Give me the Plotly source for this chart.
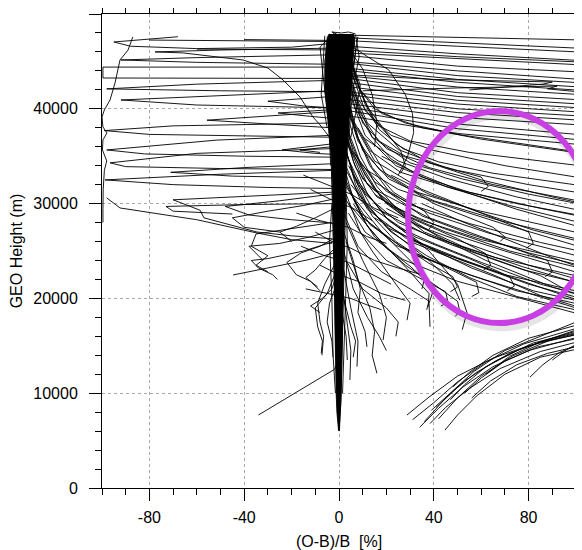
import plotly.graph_objects as go

# ---------------- data (x = (O-B)/B [%], y = GEO height [m]) ----------------
# dense central bundle envelope
core_y = [47900, 47500, 46000, 44000, 42000, 40000, 37000, 35000, 32000, 30000,
          27000, 25000, 22000, 20000, 17000, 15000, 12000, 10000, 8000, 7000, 6100]
core_left = [-4.2, -5.0, -5.6, -6.0, -6.0, -5.2, -4.0, -3.2, -2.8, -2.6,
             -2.3, -2.1, -1.9, -1.8, -1.7, -1.6, -1.4, -1.2, -0.9, -0.6, -0.2]
core_right = [6.0, 6.6, 6.0, 5.4, 5.0, 4.5, 3.7, 3.2, 2.8, 2.6,
              2.2, 1.9, 1.7, 1.6, 1.4, 1.3, 1.1, 0.9, 0.6, 0.4, 0.2]

# stringy profiles at the edges of the bundle
edge_profiles = [
    [(-4, 47900), (-6, 45000), (-5, 41000), (-3.5, 36000), (-2.8, 30000), (-2, 22000), (-1.5, 15000), (-0.8, 9000), (0, 6000)],
    [(6, 47900), (7, 46000), (5, 42000), (3.5, 36000), (2.8, 30000), (2, 22000), (1.5, 15000), (0.8, 9000), (0, 6000)],
    [(-2, 48000), (-8, 46500), (-6.5, 43000), (-4.5, 39000), (-3.5, 34000)],
    [(7, 47800), (8.5, 45500), (6.5, 43000), (5, 40000), (4, 36000)],
    [(-6, 47700), (-7, 44000), (-7.5, 41500), (-5, 38000)],
    [(8, 47600), (6, 44500), (9, 42500), (7, 39500), (5, 37000)],
    [(-3, 30000), (-4, 26000), (-3, 20000), (-2.5, 14000), (-1.5, 10000)],
    [(3, 31000), (3.5, 26000), (2.8, 20000), (2, 14000), (1.5, 10000)],
    [(-1, 47900), (-3, 48100), (1, 48000), (4, 48100), (7, 47900)],
]

# near-horizontal profiles running off the right edge in the upper part
right_top = [
    [(-2, 47800), (50, 47550), (105, 47250)],
    [(3, 47500), (50, 47000), (105, 46350)],
    [(-40, 47300), (3, 47200), (50, 46600), (105, 45950)],
    [(4, 46600), (50, 45800), (105, 45050)],
    [(-60, 46300), (3, 46200), (50, 45500), (105, 44900)],
    [(3, 45900), (50, 45300), (105, 44600)],
    [(5, 45600), (50, 44500), (105, 43850)],
    [(3, 45000), (50, 44000), (105, 43050)],
    [(4, 44800), (50, 43500), (105, 42700)],
    [(3, 44300), (50, 43100), (105, 42250)],
    [(5, 44000), (50, 42800), (105, 41900)],
    [(3, 43500), (50, 42300), (105, 41450)],
    [(4, 43200), (50, 41700), (105, 40900)],
    [(3, 42800), (50, 41300), (105, 40450)],
    [(5, 42300), (50, 40900), (105, 40050)],
    [(3, 41800), (50, 40500), (105, 39600)],
    [(4, 41500), (50, 40000), (105, 39200)],
    [(3, 41000), (50, 39600), (105, 38750)],
    [(5, 40500), (50, 39100), (105, 38250)],
    [(3, 40200), (50, 38400), (105, 37200)],
    [(4, 39800), (50, 37900), (105, 36650)],
    [(3, 39300), (50, 37400), (105, 36150)],
    [(3, 43600), (40, 43100), (90, 42830), (86, 42600), (55, 41990)],
    [(10, 41900), (50, 42200), (92, 42400), (88, 42100), (105, 41700)],
    [(3, 47000), (12, 45500), (21, 44100), (28, 41500), (31, 39500), (31.5, 37500), (29, 35000), (25, 33000)],
    [(5, 46000), (10, 44200), (14, 41500), (16, 38500), (15, 36000)],
]

# profiles bending away to the right through the mid levels
right_fan = [
    [(4, 45500), (9, 42000), (18, 39500), (35, 38000), (60, 36800), (105, 35200)],
    [(3, 44800), (8, 41000), (16, 38300), (30, 36600), (55, 35400), (105, 33900)],
    [(5, 44000), (11, 39800), (22, 37200), (40, 35600), (70, 34000), (105, 32600)],
    [(3, 43500), (7, 40000), (14, 37000), (28, 35000), (50, 33500), (80, 32000), (105, 31000)],
    [(4, 42800), (10, 38500), (20, 35800), (38, 33800), (65, 32000), (105, 30100)],
    [(3, 42000), (6, 38800), (13, 35600), (26, 33300), (48, 31600), (75, 30000), (105, 28600)],
    [(5, 41200), (11, 37200), (24, 34000), (45, 31800), (72, 29800), (105, 27800)],
    [(3, 40500), (8, 36600), (17, 33600), (33, 31200), (58, 29300), (105, 26700)],
    [(4, 39800), (10, 35600), (21, 32600), (40, 30300), (68, 28200), (105, 26000)],
    [(2, 39000), (6, 35500), (15, 32300), (30, 29900), (55, 27900), (85, 25900), (105, 24800)],
    [(3, 38200), (9, 34300), (20, 31300), (38, 29000), (63, 26900), (105, 24200)],
    [(2, 37500), (7, 33800), (16, 30700), (34, 28300), (60, 26200), (105, 23600)],
    [(3, 36800), (10, 32600), (23, 29600), (44, 27400), (72, 25000), (105, 23000)],
    [(2, 36000), (8, 32000), (19, 29000), (38, 26600), (66, 24300), (105, 22100)],
    [(3, 35200), (11, 31000), (25, 28000), (48, 25600), (78, 23000), (105, 21400)],
    [(2, 34500), (9, 30400), (21, 27400), (42, 24900), (70, 22500), (105, 20500)],
    [(3, 33500), (12, 29400), (28, 26400), (52, 24000), (80, 21500), (105, 19800)],
    [(2, 32600), (10, 28600), (24, 25600), (47, 23200), (75, 20800), (105, 19200)],
    [(3, 31800), (13, 27800), (30, 24800), (56, 22400), (105, 18600)],
    [(2, 30800), (11, 27000), (27, 24100), (50, 21800), (105, 18100)],
    [(15, 31000), (28, 28800), (45, 27000), (70, 25000), (105, 22400)],
    [(20, 29500), (35, 27500), (55, 25700), (80, 23500), (105, 21700)],
    [(25, 27500), (40, 25800), (60, 23800), (85, 21500), (105, 20200)],
    [(12, 33500), (25, 31500), (45, 29800), (70, 27800), (105, 25200)],
    [(18, 35000), (30, 33500), (50, 31500), (75, 29400), (105, 27300)],
    [(30, 26000), (45, 24500), (65, 22500), (85, 20300), (105, 18800)],
    [(10, 37000), (25, 34500), (45, 32700), (75, 30700), (105, 29100)],
    [(3, 37000), (12, 32000), (30, 28500), (50, 26300), (62, 24700), (64, 23500), (61, 23000)],
    [(4, 34000), (14, 29500), (32, 26500), (55, 24200), (72, 22300), (74, 21300), (71, 20800)],
    [(2, 33000), (10, 28500), (26, 25500), (45, 23300), (58, 21700), (59, 20600), (56, 20200)],
    [(5, 39000), (15, 34500), (35, 31500), (60, 29000), (80, 27000), (82, 25800), (79, 25300)],
    [(3, 31000), (9, 27000), (20, 24000), (35, 22000), (45, 20700), (46, 19600), (43, 19200)],
    [(4, 36000), (15, 31500), (38, 28500), (60, 26500), (88, 24000), (90, 22800), (87, 22300)],
    [(6, 30000), (15, 26500), (28, 23500), (40, 21500), (50, 19700), (51, 18600), (49, 18100)],
    [(2, 29000), (8, 25500), (18, 22800), (30, 21000), (38, 19700), (37, 18800)],
    [(8, 38000), (20, 33000), (40, 30000), (65, 27500), (70, 26500), (68, 26000)],
    [(6, 35500), (18, 30500), (36, 27000), (58, 24800), (85, 22400), (95, 21000), (93, 20300)],
    [(3, 41500), (7, 37500), (13, 34000), (22, 31000), (35, 28700), (55, 26800), (80, 24800), (105, 23300)],
    [(2, 40000), (5, 36500), (11, 33000), (20, 30000), (32, 27800), (52, 25500), (78, 23300), (105, 21300)],
    [(4, 38800), (9, 35000), (16, 31800), (26, 29000), (42, 26500), (62, 24000), (90, 21200), (105, 20100)],
    [(3, 37800), (6, 34500), (12, 31000), (21, 28200), (36, 25600), (56, 23200), (82, 20800), (105, 19500)],
    [(2, 36500), (6, 33000), (12, 29800), (22, 27000), (37, 24500), (55, 22200), (75, 20200), (105, 18500)],
    [(3, 35600), (7, 32000), (14, 28700), (24, 26000), (38, 23700), (48, 22300), (50, 21200), (47, 20700)],
    [(2, 34000), (6, 30500), (12, 27600), (20, 25300), (30, 23400), (36, 22000), (35, 21000)],
    [(4, 43000), (9, 39500), (17, 36500), (30, 34300), (52, 32600), (80, 31000), (105, 29800)],
    [(3, 45000), (8, 42300), (15, 40000), (28, 38500), (50, 37300), (80, 36200), (105, 35300)],
    [(5, 42500), (12, 38500), (25, 35700), (45, 33800), (60, 32800), (63, 31800), (60, 31300)],
    [(22, 33000), (38, 31000), (58, 29200), (82, 27200), (105, 25800)],
    [(35, 30000), (50, 28300), (70, 26300), (90, 24300), (105, 23000)],
    [(15, 28500), (30, 26300), (50, 24300), (72, 22300), (95, 20300), (105, 19500)],
    [(4, 46500), (7, 43500), (11, 40500), (17, 37800), (27, 35800), (42, 34400), (65, 33200), (105, 31800)],
    [(3, 46000), (5, 43000), (9, 39800), (14, 37000), (22, 34700), (35, 32800), (55, 31200), (85, 29500), (105, 28500)],
    [(5, 45200), (9, 41800), (15, 38800), (24, 36300), (38, 34300), (60, 32500), (90, 30700), (105, 29900)],
    [(4, 41000), (8, 37000), (14, 33800), (23, 31200), (36, 29200), (40, 28000), (38, 27300)],
    [(6, 43800), (12, 40200), (20, 37500), (26, 35600), (28, 34000), (26, 33200)],
]

# short wiggly profiles hanging down to the right of the bundle
right_hang = [
    [(2, 27000), (6, 24000), (9, 21000), (8, 18500), (11, 16500), (11.8, 14900)],
    [(3, 26000), (8, 22000), (13, 19000), (15, 16500), (14, 14000), (16, 12100)],
    [(3, 28000), (10, 24000), (17, 20500), (20, 18000), (18.6, 15600)],
    [(4, 29000), (14, 25000), (24, 21500), (30, 19500), (28.7, 17700)],
    [(5, 31000), (18, 27000), (32, 23500), (40, 21000), (38, 19500), (38.4, 17000)],
    [(4, 30000), (16, 26500), (30, 22800), (38, 20500), (37.6, 19100)],
    [(6, 33000), (20, 28500), (38, 25000), (50, 21500), (54, 18500), (52, 16700)],
    [(5, 32000), (20, 27500), (38, 24000), (48, 21500), (51, 19800)],
    [(1, 22000), (3, 18000), (5, 14500), (4.6, 11400)],
    [(2, 23000), (5, 19000), (8, 15500), (7.6, 12800)],
    [(2, 25000), (6, 21000), (12, 18000), (17, 16000), (20, 14500)],
    [(3, 24000), (10, 21000), (20, 19000), (25, 17500), (24, 16000)],
    [(2, 20000), (5, 17000), (7, 15500), (6, 13800)],
    [(1, 19000), (3, 16000), (3.5, 13500)],
    [(-15, 33000), (-5, 32000), (5, 31000), (15, 29500), (25, 28500)],
    [(-12, 31500), (-4, 30500), (6, 29500), (14, 28200)],
    [(-18, 29000), (-8, 28200), (4, 27500), (12, 26500), (20, 25800)],
    [(-10, 27000), (-3, 26000), (5, 25300), (15, 24000), (25, 23200), (35, 22500)],
    [(-16, 25500), (-6, 24500), (4, 23800), (14, 22500), (22, 21500)],
    [(-8, 23500), (0, 22500), (8, 21800), (18, 20500), (28, 19800)],
    [(-14, 21000), (-5, 20500), (5, 20000), (12, 19300), (18, 18800)],
]

# profiles to the left of the bundle at mid / low levels
left_low = [
    [(-1, 24000), (-6, 21500), (-9, 19500), (-8, 17500), (-6.5, 16000), (-7.2, 14000)],
    [(-1, 23000), (-5, 20500), (-10, 19000), (-9, 17000), (-7, 15500), (-7.5, 14200)],
    [(-1, 21500), (-4, 19500), (-5, 17500), (-3, 15500), (-2.5, 13800)],
    [(-2, 26000), (-15, 25000), (-30, 24200), (-37, 24000), (-34, 23200), (-28, 22500), (-26, 22000)],
    [(-2, 24800), (-13.5, 24050), (-44.7, 22470)],
    [(-3, 28000), (-20, 27400), (-35, 26800), (-37, 25500), (-30, 24500), (-35, 23500), (-30, 22800)],
    [(-2, 27200), (-12, 26500), (-25, 25800), (-38, 25500), (-32, 24000)],
    [(-1, 26500), (-8, 25500), (-16, 24800), (-22, 23800), (-18, 22500), (-12, 21800), (-8, 20800)],
    [(-2, 29500), (-10, 28500), (-18, 27600), (-25, 27000), (-20, 26000)],
    [(-1, 25500), (-6, 24200), (-10, 23000), (-14, 22200), (-9, 21200)],
    [(-1, 22500), (-3, 21000), (-7, 20000), (-12, 19200), (-8, 18500)],
    [(-34, 7700), (-18, 10100), (-2, 12500), (0, 13500)],
    [(-2, 30500), (-15, 29800), (-30, 29200), (-45, 28500), (-40, 27500), (-25, 27000)],
    [(-3, 31000), (-25, 30300), (-48, 29700), (-38, 28800), (-20, 28300), (-5, 28000)],
]

# large excursions to the left in the upper part
left_top = [
    [(-68, 47600), (-95, 47050), (-88, 46600), (-60, 46350), (-20, 46500), (-3, 46900)],
    [(-3, 46400), (-50, 46200), (-77.6, 46000), (-66, 45900), (-40.5, 45150), (-30, 44300),
     (-23.6, 43040), (-16.5, 41250), (-11, 39140), (-8, 38300), (-4, 37000)],
    [(-2, 45700), (-60, 45400), (-92, 45150), (-60, 44900), (-4, 44700)],
    [(-3, 44400), (-99.6, 44400), (-99.6, 43250), (-3, 43200)],
    [(-87, 47580), (-89, 46200), (-92.4, 45150), (-94.5, 42730), (-96.6, 40930), (-99, 39880),
     (-100, 39140), (-99.6, 38090), (-97.9, 37450), (-99.6, 36720), (-99.8, 35660), (-98, 34500),
     (-99, 33500), (-99.5, 31500), (-99.6, 29500), (-99.6, 28000)],
    [(-3, 41900), (-50, 41400), (-92, 40930), (-60, 40400), (-3, 40100)],
    [(-3, 39700), (-30, 39200), (-55.7, 38800), (-30, 38400), (-3, 38000)],
    [(-3, 37200), (-51.5, 36700), (-98, 35660), (-82, 35240), (-40, 35000), (-3, 34900)],
    [(-3, 36300), (-24, 35660), (-10, 35300), (-3, 35200)],
    [(-3, 41300), (-30, 40800), (-15, 40300), (-3, 40100)],
    [(-3, 39900), (-25.7, 39560), (-12, 39200), (-3, 39000)],
    [(-3, 34200), (-40, 33800), (-71, 33300), (-45, 32900), (-3, 32700)],
    [(-3, 33500), (-50, 33100), (-98.7, 32500), (-70, 32000), (-30, 31700), (-3, 31600)],
    [(-3, 31200), (-40, 30800), (-70, 30400), (-58.6, 29300), (-57, 28500), (-34.6, 27000), (-20, 26600), (-3, 26300)],
    [(-98, 30600), (-92.4, 29540), (-60, 28300), (-34.6, 26900), (-20, 26200), (-3, 25800)],
    [(-3, 36000), (-16.5, 35660), (-8, 35400)],
    [(-3, 38500), (-70, 38200), (-99, 37700), (-80, 37300), (-3, 37000)],
    [(-3, 43000), (-60, 42600), (-98, 42100), (-50, 41900), (-3, 41800)],
    [(-3, 47100), (-50, 47150), (-80, 47250)],
    [(-3, 35800), (-60, 35300), (-96.6, 34300), (-90, 33900), (-50, 33700), (-3, 33600)],
    [(-3, 30000), (-40, 29900), (-73, 29700), (-70, 29200), (-45, 28900)],
]

# low-level profiles fanning up to the lower right
low_right = [
    [(28.7, 7700), (38, 9600), (50, 11800), (65, 13700), (80, 15000), (105, 16500)],
    [(34, 6400), (42, 8400), (52, 10600), (65, 12800), (80, 14500), (105, 16200)],
    [(38.4, 6800), (45, 8500), (55, 10500), (68, 12600), (85, 14400), (105, 15700)],
    [(44.7, 6100), (50, 7700), (58, 9700), (70, 12000), (85, 13800), (105, 14900)],
    [(41, 8500), (48, 10200), (58, 12200), (72, 14200), (87, 15600), (105, 16900)],
    [(47, 9300), (53, 10900), (62, 12800), (76, 14600), (105, 17100)],
    [(48, 10650), (55, 12200), (65, 14000), (80, 15800), (105, 17500)],
    [(31, 7200), (40, 9000), (50, 11200), (62, 13300), (78, 15200), (105, 17200)],
    [(36, 7000), (44, 9200), (53, 11300), (66, 13400), (82, 15300), (105, 16700)],
    [(53, 10000), (60, 11600), (70, 13400), (84, 14900), (105, 16000)],
    [(80.6, 11700), (86, 13000), (93, 14300), (105, 15500)],
    [(56, 9500), (64, 11300), (75, 13000), (88, 14200), (105, 15200)],
    [(42, 7300), (50, 9500), (60, 11800), (73, 13900), (90, 15700), (105, 16600)],
    [(39, 8200), (47, 10000), (57, 12300), (70, 14500), (105, 18000)],
    [(62, 12000), (72, 13900), (85, 15400), (105, 16400)],
    [(90, 13500), (96, 14600), (105, 15800)],
]

# axis ticks
x_tick_vals = [-80, -40, 0, 40, 80]
x_tick_text = ["-80", "-40", "0", "40", "80"]
y_tick_vals = [0, 10000, 20000, 30000, 40000, 50000]
y_tick_text = ["0", "10000", "20000", "30000", "40000", "50000"]
x_range = [-100, 100]
y_range = [0, 50000]


def join(lines):
    xs, ys = [], []
    for ln in lines:
        for px, py in ln:
            xs.append(px)
            ys.append(py)
        xs.append(None)
        ys.append(None)
    return xs, ys


fig = go.Figure()
line_style = dict(color="rgba(0,0,0,0.9)", width=1.0)
for fam in [left_top, right_top, right_fan, right_hang, left_low, low_right, edge_profiles]:
    xs, ys = join(fam)
    fig.add_trace(go.Scatter(x=xs, y=ys, mode="lines", line=line_style,
                             hoverinfo="skip", connectgaps=False))

# central bundle
fig.add_trace(go.Scatter(
    x=core_left + core_right[::-1],
    y=core_y + core_y[::-1],
    mode="lines", fill="toself", fillcolor="black",
    line=dict(color="black", width=0.8), hoverinfo="skip"))

axis_common = dict(
    showline=True, linecolor="black", linewidth=1, mirror="allticks",
    ticks="outside", ticklen=12, tickwidth=1, tickcolor="black",
    showgrid=True, gridcolor="#a8a8a8", gridwidth=0.8, griddash="3px,3px",
    zeroline=False, tickfont=dict(size=16, color="black"),
)

fig.update_xaxes(range=x_range, tickmode="array", tickvals=x_tick_vals, ticktext=x_tick_text,
                 minor=dict(ticks="outside", ticklen=6, tickwidth=1, tickcolor="black",
                            tickmode="linear", tick0=0, dtick=10, showgrid=False),
                 title=dict(text="(O-B)/B\u00a0\u00a0[%]", font=dict(size=16), standoff=10),
                 ticklabelstandoff=3, automargin=False, **axis_common)
fig.update_yaxes(range=y_range, tickmode="array", tickvals=y_tick_vals, ticktext=y_tick_text,
                 minor=dict(ticks="outside", ticklen=6, tickwidth=1, tickcolor="black",
                            tickmode="linear", tick0=0, dtick=2000, showgrid=False),
                 title=dict(text="GEO Height (m)", font=dict(size=16), standoff=12),
                 ticklabelstandoff=8, automargin=False, **axis_common)

# highlighted region (ellipse with soft shadow), in paper coordinates
ell = dict(x0=0.6457, x1=1.0316, y0=0.3480, y1=0.7952)
fig.add_shape(type="circle", xref="paper", yref="paper",
              x0=ell["x0"] + 0.004, x1=ell["x1"] + 0.004,
              y0=ell["y0"] - 0.008, y1=ell["y1"] - 0.008,
              line=dict(color="rgba(0,0,0,0.10)", width=9), layer="above")
fig.add_shape(type="circle", xref="paper", yref="paper",
              x0=ell["x0"], x1=ell["x1"], y0=ell["y0"], y1=ell["y1"],
              line=dict(color="#C840E4", width=6), layer="above")

# the page body adds an 8px offset, so the figure is sized to fit the window
fig.update_layout(
    width=574, height=542,
    margin=dict(l=94, r=6, t=6, b=62),
    plot_bgcolor="white", paper_bgcolor="white",
    showlegend=False,
    font=dict(family="Liberation Sans, Arial, Helvetica, sans-serif", size=16, color="black"),
)

fig.write_html("out.html")
